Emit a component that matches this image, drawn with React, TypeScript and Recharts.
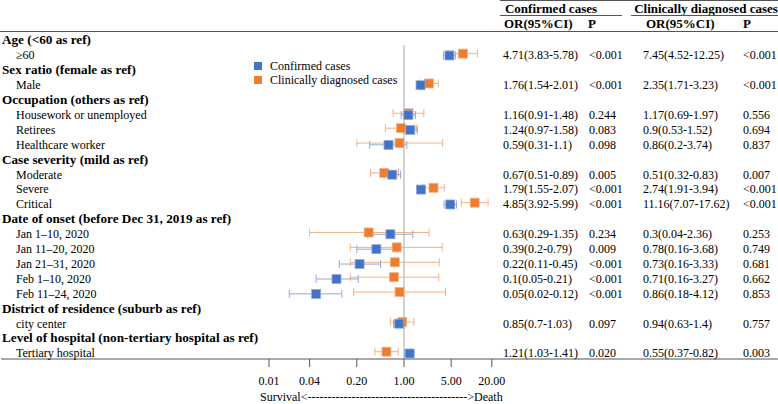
import React from 'react';
import { ScatterChart, Scatter, XAxis, YAxis, ErrorBar, ReferenceLine } from 'recharts';

const FONT = '"Liberation Serif", "Times New Roman", serif';

// left column labels, one per row (header rows are the bold group titles)
const ROW_LABELS = [
  'Age (<60 as ref)', '≥60',
  'Sex ratio (female as ref)', 'Male',
  'Occupation (others as ref)', 'Housework or unemployed', 'Retirees', 'Healthcare worker',
  'Case severity (mild as ref)', 'Moderate', 'Severe', 'Critical',
  'Date of onset (before Dec 31, 2019 as ref)', 'Jan 1–10, 2020', 'Jan 11–20, 2020', 'Jan 21–31, 2020', 'Feb 1–10, 2020', 'Feb 11–24, 2020',
  'District of residence (suburb as ref)', 'city center',
  'Level of hospital (non-tertiary hospital as ref)', 'Tertiary hospital',
];
const HEADER_ROWS = [0, 2, 4, 8, 12, 18, 20];

const CONF_OR = [null, 4.71, null, 1.76, null, 1.16, 1.24, 0.59, null, 0.67, 1.79, 4.85, null, 0.63, 0.39, 0.22, 0.1, 0.05, null, 0.85, null, 1.21];
const CONF_LO = [null, 3.83, null, 1.54, null, 0.91, 0.97, 0.31, null, 0.51, 1.55, 3.92, null, 0.29, 0.2, 0.11, 0.05, 0.02, null, 0.7, null, 1.03];
const CONF_HI = [null, 5.78, null, 2.01, null, 1.48, 1.58, 1.1, null, 0.89, 2.07, 5.99, null, 1.35, 0.79, 0.45, 0.21, 0.12, null, 1.03, null, 1.41];
const CONF_P = [null, '<0.001', null, '<0.001', null, '0.244', '0.083', '0.098', null, '0.005', '<0.001', '<0.001', null, '0.234', '0.009', '<0.001', '<0.001', '<0.001', null, '0.097', null, '0.020'];

const CLIN_OR = [null, 7.45, null, 2.35, null, 1.17, 0.9, 0.86, null, 0.51, 2.74, 11.16, null, 0.3, 0.78, 0.73, 0.71, 0.86, null, 0.94, null, 0.55];
const CLIN_LO = [null, 4.52, null, 1.71, null, 0.69, 0.53, 0.2, null, 0.32, 1.91, 7.07, null, 0.04, 0.16, 0.16, 0.16, 0.18, null, 0.63, null, 0.37];
const CLIN_HI = [null, 12.25, null, 3.23, null, 1.97, 1.52, 3.74, null, 0.83, 3.94, 17.62, null, 2.36, 3.68, 3.33, 3.27, 4.12, null, 1.4, null, 0.82];
const CLIN_P = [null, '<0.001', null, '<0.001', null, '0.556', '0.694', '0.837', null, '0.007', '<0.001', '<0.001', null, '0.253', '0.749', '0.681', '0.662', '0.853', null, '0.757', null, '0.003'];

const X_TICKS = [0.01, 0.04, 0.2, 1, 5, 20];
const SERIES_NAMES = ['Confirmed cases', 'Clinically diagnosed cases'];

const BLUE = '#4472C4';
const ORANGE = '#ED7D31';

const ROW_INDEX = ROW_LABELS.map((_, i) => i);

const buildSeries = (or: (number | null)[], lo: (number | null)[], hi: (number | null)[], shift: number) =>
  or
    .map((v, i) =>
      v == null ? null : { x: v, y: i + shift, err: [v - (lo[i] as number), (hi[i] as number) - v] }
    )
    .filter(Boolean);

const confData = buildSeries(CONF_OR, CONF_LO, CONF_HI, 0.04);
const clinData = buildSeries(CLIN_OR, CLIN_LO, CLIN_HI, -0.08);

const square = (fill: string, stroke: string) => (props: any) => (
  <rect x={props.cx - 4.5} y={props.cy - 4.5} width={9} height={9} fill={fill} stroke={stroke} strokeWidth={0.8} />
);

const RowTick = (props: any) => {
  const { y, payload } = props;
  const i = Math.round(payload.value as number);
  const isHeader = HEADER_ROWS.includes(i);
  const ty = y + 4.5;
  return (
    <g fontFamily={FONT}>
      <text x={isHeader ? 2 : 16} y={ty} fill="#000" fontSize={isHeader ? 13.2 : 12} fontWeight={isHeader ? 'bold' : 'normal'}>
        {ROW_LABELS[i]}
      </text>
      {CONF_OR[i] != null && (
        <>
          <text x={503} y={ty} fill="#000" fontSize={12}>{`${CONF_OR[i]}(${CONF_LO[i]}-${CONF_HI[i]})`}</text>
          <text x={589} y={ty} fill="#000" fontSize={12}>{CONF_P[i]}</text>
          <text x={643} y={ty} fill="#000" fontSize={12}>{`${CLIN_OR[i]}(${CLIN_LO[i]}-${CLIN_HI[i]})`}</text>
          <text x={743} y={ty} fill="#000" fontSize={12}>{CLIN_P[i]}</text>
        </>
      )}
    </g>
  );
};

// log axis spans nearly the full width so the bottom rule is the axis line
const X_MIN = Math.pow(10, -5.97);
const X_MAX = Math.pow(10, 5.541);

export default function App() {
  return (
    <div style={{ position: 'absolute', left: 0, top: 0, width: 778, height: 404, background: '#fff' }}>
      <ScatterChart width={778} height={404} margin={{ top: 31, right: 0, bottom: 0, left: 0 }}>
        <XAxis
          type="number"
          dataKey="x"
          scale="log"
          domain={[X_MIN, X_MAX]}
          allowDataOverflow
          ticks={X_TICKS}
          interval={0}
          tickFormatter={(v: number) => v.toFixed(2)}
          tickSize={8}
          tickMargin={9}
          height={45}
          stroke="#555"
          tick={{ fill: '#000', fontSize: 12, fontFamily: FONT }}
        />
        <YAxis
          type="number"
          dataKey="y"
          domain={[-0.6, 21.41]}
          allowDataOverflow
          reversed
          ticks={ROW_INDEX}
          interval={0}
          width={1}
          axisLine={false}
          tickLine={false}
          tick={<RowTick />}
        />
        <ReferenceLine segment={[{ x: 1, y: 0.34 }, { x: 1, y: 21.41 }]} stroke="#A6A6A6" strokeWidth={1} ifOverflow="visible" />
        <Scatter name={SERIES_NAMES[1]} data={clinData} shape={square(ORANGE, '#F4B183')} isAnimationActive={false}>
          <ErrorBar dataKey="err" direction="x" width={4} stroke="#F4B183" strokeWidth={1} />
        </Scatter>
        <Scatter name={SERIES_NAMES[0]} data={confData} shape={square(BLUE, '#8FAADC')} isAnimationActive={false}>
          <ErrorBar dataKey="err" direction="x" width={4} stroke="#8FAADC" strokeWidth={1} />
        </Scatter>
      </ScatterChart>
      <svg width={778} height={404} style={{ position: 'absolute', left: 0, top: 0, pointerEvents: 'none' }}>
        <g fontFamily={FONT} fill="#000">
          <line x1={500} x2={778} y1={0.5} y2={0.5} stroke="#555" />
          <text x={551} y={13} fontSize={13} fontWeight="bold" textAnchor="middle">Confirmed cases</text>
          <text x={706} y={13} fontSize={13} fontWeight="bold" textAnchor="middle">Clinically diagnosed cases</text>
          <line x1={500} x2={622} y1={15.5} y2={15.5} stroke="#555" />
          <line x1={631} x2={778} y1={15.5} y2={15.5} stroke="#555" />
          <text x={504} y={27.5} fontSize={13} fontWeight="bold">OR(95%CI)</text>
          <text x={588} y={27.5} fontSize={13} fontWeight="bold">P</text>
          <text x={646} y={27.5} fontSize={13} fontWeight="bold">OR(95%CI)</text>
          <text x={743} y={27.5} fontSize={13} fontWeight="bold">P</text>
          <line x1={0} x2={778} y1={31.5} y2={31.5} stroke="#555" />
          <rect x={254} y={62} width={8} height={8} fill={BLUE} />
          <text x={270} y={70} fontSize={12}>{SERIES_NAMES[0]}</text>
          <rect x={254} y={76} width={8} height={8} fill={ORANGE} />
          <text x={270} y={84} fontSize={12}>{SERIES_NAMES[1]}</text>
          <text x={260} y={401} fontSize={12}>{'Survival<' + '-'.repeat(40) + '>Death'}</text>
        </g>
      </svg>
    </div>
  );
}
